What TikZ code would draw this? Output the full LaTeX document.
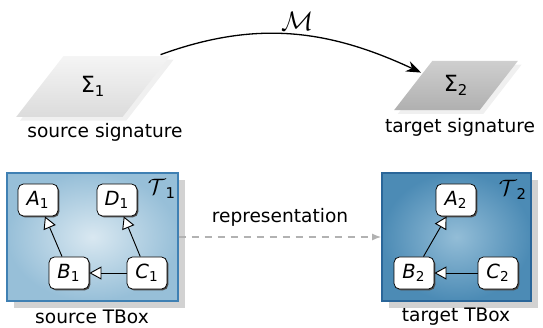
\documentclass[tikz,border=0pt]{standalone}
\usepackage{fontspec}
\setmainfont{DejaVu Sans}
\usepackage{tikz}
\usetikzlibrary{arrows.meta,positioning,shapes.geometric,calc,shadows}
\definecolor{tlight}{HTML}{D9E8F1}
\definecolor{tmid}{HTML}{97BFD8}
\definecolor{tline}{HTML}{3F80B3}
\definecolor{tdarkin}{HTML}{93BDD7}
\definecolor{tdark}{HTML}{4C8BB5}
\definecolor{tdarkline}{HTML}{2A6699}

\tikzset{
  concept/.style={draw, rounded corners=3pt, fill=white, minimum width=21.5pt, minimum height=17.3pt, inner sep=1pt,
    font=\fontsize{10.5}{12}\selectfont,
    drop shadow={shadow xshift=0.7pt, shadow yshift=-0.7pt, fill=black!70, opacity=1}},
  isa/.style={line width=0.5pt, -{Triangle[fill=white, length=6.5pt, width=7pt]}},
  sigbox/.style={trapezium, trapezium left angle=45, trapezium right angle=135, trapezium stretches=true, inner sep=0pt,
    font=\large, drop shadow={shadow xshift=2pt, shadow yshift=-2pt, fill=gray!12, opacity=1}},
  tbox/.style={rectangle, shading=radial, draw, line width=0.6pt,
    drop shadow={shadow xshift=3.6pt, shadow yshift=-3.6pt, fill=gray!35, opacity=1}},
}

\begin{document}
\begin{tikzpicture}[x=0.538pt, y=-0.538pt]
    \useasboundingbox (0,0) rectangle (543,327);

    % Signatures
    \node[sigbox, minimum width=82.9pt, minimum height=32.8pt, top color=gray!8, bottom color=gray!28] (sig1) at (93,86.5) {Σ\textsubscript{1}};
    \node[sigbox, minimum width=66.7pt, minimum height=26.4pt, top color=gray!38, bottom color=gray!62] (sig2) at (456,85.5) {Σ\textsubscript{2}};
    \node (srcsig) at (105,132) {source signature};
    \node (tgtsig) at (460,127) {target signature};

    \draw[line width=0.7pt, -{Stealth[length=8pt, width=6pt]}] ($(sig1.top right corner)+(-10,-1)$) to[out=20, in=155]
        node[above, pos=0.52, font=\Large, inner sep=2pt] (mlabel) {$\mathcal{M}$} ($(sig2.top left corner)+(-11,12)$);

    % TBoxes
    \node[tbox, minimum width=92pt, minimum height=68.9pt, inner color=tlight, outer color=tmid, draw=tline] (t1) at (92.5,237) {};
    \node[tbox, minimum width=80.2pt, minimum height=68.9pt, inner color=tdarkin, outer color=tdark, draw=tdarkline] (t2) at (456.5,237) {};
    \node[font=\large] (t1name) at (162,189) {$\mathcal{T}$\textsubscript{1}};
    \node[font=\large] (t2name) at (513,190) {$\mathcal{T}$\textsubscript{2}};

    % source concepts
    \node[concept] (a1) at (38,200) {\textit{A}\textsubscript{1}};
    \node[concept] (d1) at (117,200) {\textit{D}\textsubscript{1}};
    \node[concept] (b1) at (69,273) {\textit{B}\textsubscript{1}};
    \node[concept] (c1) at (147,273) {\textit{C}\textsubscript{1}};
    \draw[isa] (b1) -- (a1);
    \draw[isa] (c1) -- (d1);
    \draw[isa] (c1) -- (b1);

    % target concepts
    \node[concept] (a2) at (456,200) {\textit{A}\textsubscript{2}};
    \node[concept] (b2) at (414,273) {\textit{B}\textsubscript{2}};
    \node[concept] (c2) at (498,273) {\textit{C}\textsubscript{2}};
    \draw[isa] (b2) -- (a2);
    \draw[isa] (c2) -- (b2);

    \draw[gray!60, line width=0.8pt, dash pattern=on 4pt off 3pt, -{Latex[length=5pt]}] (t1.east) --
        node[above, black, yshift=2pt] (replabel) {representation} (t2.west);

    \node (srctbox) at (92,317) {source TBox};
    \node (tgttbox) at (456,317) {target TBox};
\end{tikzpicture}
\end{document}
